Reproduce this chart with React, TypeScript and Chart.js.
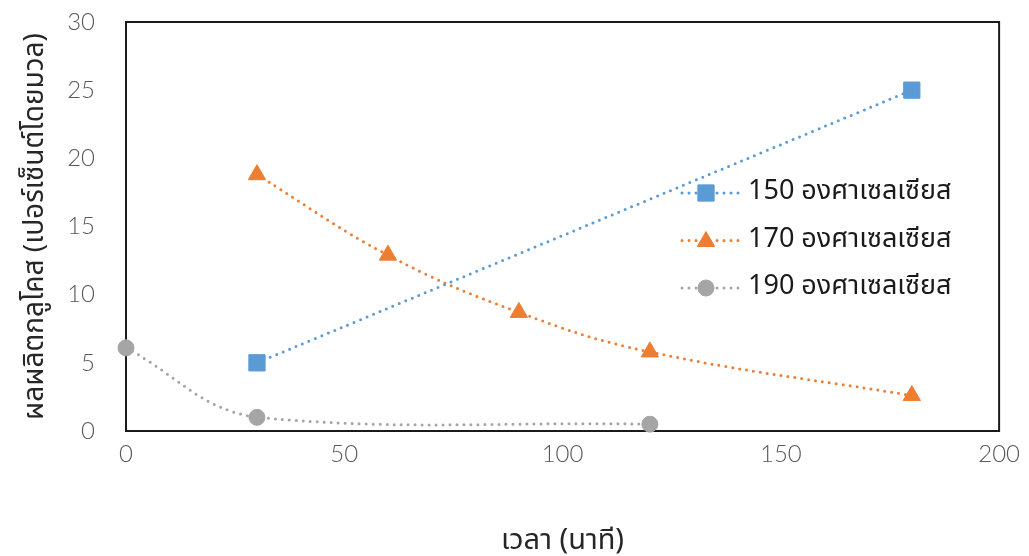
import React, { useEffect, useRef } from 'react';
import { Chart, registerables } from 'chart.js';

Chart.register(...registerables);

// Glucose yield (% by mass) over reaction time (minutes) at three temperatures
const seriesNames = ['150 องศาเซลเซียส', '170 องศาเซลเซียส', '190 องศาเซลเซียส'];
const time150 = [30, 180];
const yield150 = [5.0, 25.0];
const time170 = [30, 60, 90, 120, 180];
const yield170 = [18.8, 12.9, 8.7, 5.8, 2.6];
const time190 = [0, 30, 120];
const yield190 = [6.1, 1.0, 0.5];
const xTickValues = [0, 50, 100, 150, 200];
const yTickValues = [0, 5, 10, 15, 20, 25, 30];
const xTitle = 'เวลา (นาที)';
const yTitle = 'ผลผลิตกลูโคส (เปอร์เซ็นต์โดยมวล)';

const colors = ['#5B9BD5', '#ED7D31', '#A5A5A5'];
const markerStyles = ['rect', 'triangle', 'circle'];
const markerRadii = [11.5, 10, 8];

const thaiFont = "'Noto Sans Thai', 'Noto Sans', 'DejaVu Sans', sans-serif";
const numFont = "Lato, 'Open Sans', sans-serif";

const toPoints = (xs: number[], ys: number[]) => xs.map((x, i) => ({ x, y: ys[i] }));

// Black frame around the plotting area
const framePlugin = {
  id: 'frame',
  beforeDatasetsDraw(chart: any) {
    const { ctx, chartArea } = chart;
    ctx.save();
    ctx.strokeStyle = '#1a1a1a';
    ctx.lineWidth = 2;
    ctx.strokeRect(chartArea.left, chartArea.top, chartArea.right - chartArea.left, chartArea.bottom - chartArea.top);
    ctx.restore();
  },
};

function drawMarker(ctx: CanvasRenderingContext2D, style: string, x: number, y: number, r: number, color: string) {
  ctx.save();
  ctx.fillStyle = color;
  ctx.strokeStyle = color;
  ctx.lineWidth = 1;
  ctx.lineJoin = 'round';
  ctx.beginPath();
  if (style === 'rect') {
    const s = r * Math.SQRT1_2;
    ctx.rect(x - s, y - s, 2 * s, 2 * s);
  } else if (style === 'triangle') {
    let a = 0;
    ctx.moveTo(x + Math.sin(a) * r, y - Math.cos(a) * r);
    a += (2 * Math.PI) / 3;
    ctx.lineTo(x + Math.sin(a) * r, y - Math.cos(a) * r);
    a += (2 * Math.PI) / 3;
    ctx.lineTo(x + Math.sin(a) * r, y - Math.cos(a) * r);
    ctx.closePath();
  } else {
    ctx.arc(x, y, r, 0, Math.PI * 2);
  }
  ctx.fill();
  ctx.stroke();
  ctx.restore();
}

// Legend drawn inside the plot, to the right, with dotted line samples
const insideLegendPlugin = {
  id: 'insideLegend',
  afterDatasetsDraw(chart: any) {
    const { ctx, chartArea } = chart;
    const lineStart = chartArea.left + 556;
    const lineEnd = chartArea.left + 614;
    const markerX = chartArea.left + 580;
    const textX = chartArea.left + 622;
    const firstY = chartArea.top + 171;
    const rowGap = 47.5;
    chart.data.datasets.forEach((ds: any, i: number) => {
      const y = firstY + i * rowGap;
      ctx.save();
      ctx.strokeStyle = colors[i];
      ctx.lineWidth = 3;
      ctx.lineCap = 'round';
      ctx.setLineDash([0, 7]);
      ctx.beginPath();
      ctx.moveTo(lineStart, y);
      ctx.lineTo(lineEnd, y);
      ctx.stroke();
      ctx.restore();
      drawMarker(ctx, markerStyles[i], markerX, y + (markerStyles[i] === 'triangle' ? 1 : 0), markerRadii[i], colors[i]);
      ctx.save();
      ctx.fillStyle = '#1a1a1a';
      ctx.font = `27px ${thaiFont}`;
      ctx.textBaseline = 'middle';
      ctx.textAlign = 'left';
      ctx.fillText(ds.label, textX, y + 1);
      ctx.restore();
    });
  },
};

export default function App() {
  const canvasRef = useRef<HTMLCanvasElement | null>(null);

  useEffect(() => {
    document.body.style.margin = '0';
    const canvas = canvasRef.current;
    if (!canvas) return;
    const series = [toPoints(time150, yield150), toPoints(time170, yield170), toPoints(time190, yield190)];
    const chart = new Chart(canvas, {
      type: 'scatter',
      data: {
        datasets: series.map((data, i) => ({
          label: seriesNames[i],
          data,
          showLine: true,
          tension: 0.4,
          borderColor: colors[i],
          backgroundColor: colors[i],
          borderWidth: 3,
          borderDash: [0, 7],
          borderCapStyle: 'round',
          pointStyle: markerStyles[i],
          pointRadius: markerRadii[i],
          pointHoverRadius: markerRadii[i],
          pointBorderWidth: 1,
          pointBorderColor: colors[i],
          pointBackgroundColor: colors[i],
          clip: false,
        })) as any,
      },
      options: {
        animation: false,
        responsive: false,
        maintainAspectRatio: false,
        layout: { padding: { top: 22, right: 28, left: 0, bottom: 0 } },
        plugins: {
          legend: { display: false },
          tooltip: { enabled: false },
        },
        scales: {
          x: {
            type: 'linear',
            min: 0,
            max: 200,
            afterBuildTicks: (scale: any) => {
              scale.ticks = xTickValues.map((v) => ({ value: v }));
            },
            grid: { display: false, drawTicks: false, tickLength: 0 },
            border: { display: false },
            ticks: { color: '#595959', font: { family: numFont, size: 24, weight: 300 }, padding: 9, maxRotation: 0 },
            title: {
              display: true,
              text: xTitle,
              color: '#262626',
              font: { family: thaiFont, size: 29 },
              padding: { top: 0, bottom: -5 },
            },
            afterFit: (scale: any) => {
              scale.height = 125;
            },
          },
          y: {
            type: 'linear',
            min: 0,
            max: 30,
            afterBuildTicks: (scale: any) => {
              scale.ticks = yTickValues.map((v) => ({ value: v }));
            },
            grid: { display: false, drawTicks: false, tickLength: 0 },
            border: { display: false },
            ticks: { color: '#595959', font: { family: numFont, size: 24, weight: 300 }, padding: 31 },
            title: {
              display: true,
              text: yTitle,
              color: '#262626',
              font: { family: thaiFont, size: 28 },
              padding: { top: 21, bottom: 0 },
            },
            afterFit: (scale: any) => {
              scale.width = 126;
            },
          },
        },
      },
      plugins: [
        framePlugin,
        insideLegendPlugin,
        {
          id: 'fixedArea',
          afterLayout(chart: any) {
            // keep the plot rectangle fixed regardless of label overhang
            const top = 22;
            const ca = chart.chartArea;
            ca.top = top;
            ca.height = ca.bottom - top;
            const y = chart.scales.y;
            y.top = top;
            y.height = y.bottom - top;
            y.configure();
          },
        },
      ],
    });
    return () => chart.destroy();
  }, []);

  return (
    <div style={{ position: 'absolute', left: 0, top: 0, width: 1029, height: 556, background: '#fff' }}>
      <canvas ref={canvasRef} width={1029} height={556} style={{ display: 'block', width: 1029, height: 556 }} />
    </div>
  );
}
